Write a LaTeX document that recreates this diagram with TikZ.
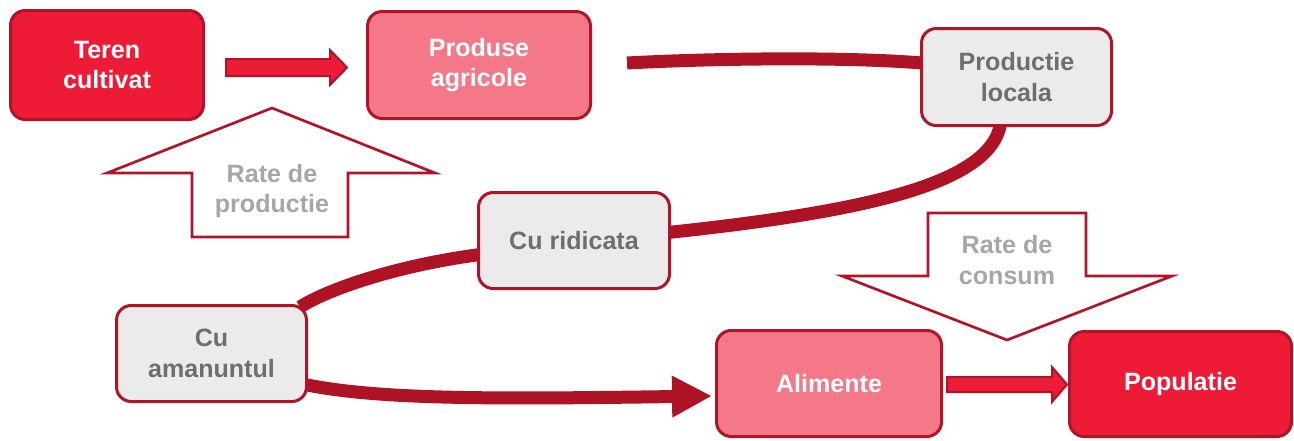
\documentclass[tikz,border=0pt]{standalone}
\usepackage{fontspec}
\setmainfont{Liberation Sans}
\usetikzlibrary{arrows.meta,backgrounds,calc}
\definecolor{redfill}{RGB}{237,27,54}
\definecolor{pinkfill}{RGB}{244,120,135}
\definecolor{grayfill}{RGB}{235,235,235}
\definecolor{boxborder}{RGB}{175,20,40}
\definecolor{connred}{RGB}{173,18,37}
\definecolor{graytext}{RGB}{109,110,113}
\definecolor{ratetextcol}{RGB}{166,166,166}
\begin{document}
\begin{tikzpicture}[x=0.75pt,y=-0.75pt,
  box/.style={draw=boxborder, line width=2.25pt, rounded corners=11pt, inner sep=0pt, align=center,
    font=\fontsize{18.8pt}{23pt}\selectfont\bfseries},
  redbox/.style={box, fill=redfill, text=white},
  pinkbox/.style={box, fill=pinkfill, text=white},
  graybox/.style={box, fill=grayfill, text=graytext},
  conn/.style={draw=connred, line width=9.75pt},
  blockarrow/.style={draw=boxborder, line width=1.5pt, fill=redfill, line join=miter},
  ratearrow/.style={draw=boxborder, line width=2pt, fill=white, line join=miter},
  ratelabel/.style={text=ratetextcol, align=center, inner sep=0pt,
    font=\fontsize{18.8pt}{23pt}\selectfont\bfseries}]
\useasboundingbox (0,0) rectangle (1294,440);

% boxes
\node[redbox, minimum width=144.75pt, minimum height=81.75pt] (teren) at (107,65) {Teren\\cultivat};
\node[pinkbox, minimum width=167.25pt, minimum height=80.25pt] (produse) at (479,65) {Produse\\agricole};
\node[graybox, minimum width=142.5pt, minimum height=72.75pt] (prodloc) at (1016.5,77) {Productie\\locala};
\node[graybox, minimum width=143.25pt, minimum height=72pt] (ridicata) at (574,240.5) {Cu ridicata};
\node[graybox, minimum width=142.5pt, minimum height=72pt] (amanunt) at (211.5,353.5) {Cu\\amanuntul};
\node[pinkbox, minimum width=168.75pt, minimum height=79.5pt] (alimente) at (829,383.5) {Alimente};
\node[redbox, minimum width=166.5pt, minimum height=78.75pt] (populatie) at (1180.5,384) {Populatie};

% block arrows
\draw[blockarrow] (226,59) -- (330,59) -- (330,50) -- (347,67.5) -- (330,85) -- (330,76) -- (226,76) -- cycle;
\draw[blockarrow] (947,377) -- (1052,377) -- (1052,367) -- (1067,384.5) -- (1052,402) -- (1052,392) -- (947,392) -- cycle;

% rate arrows
\draw[ratearrow] (272,108) -- (435,173) -- (348,173) -- (348,237) -- (192,237) -- (192,173) -- (107,173) -- cycle;
\node[ratelabel] (rprod) at (272,191) {Rate de\\productie};
\draw[ratearrow] (928,213) -- (1086,213) -- (1086,276) -- (1172,276) -- (1007,340) -- (842,276) -- (928,276) -- cycle;
\node[ratelabel] (rcons) at (1007,260) {Rate de\\consum};

% connectors
\begin{scope}[on background layer]
\coordinate (p1) at (627,63);
\draw[conn] (p1) .. controls (720,58) and (850,57) .. ($(prodloc.west)+(2,-14)$);
\draw[conn] ($(prodloc.south)+(-16,-3)$) .. controls (990,185) and (860,212) .. ($(ridicata.east)+(-3,-8)$);
\draw[conn] ($(ridicata.west)+(3,14)$) .. controls (400,265) and (330,288) .. ($(amanunt.north east)+(-8,3)$);
\draw[conn, -{Triangle[length=30pt,width=29.25pt]}] ($(amanunt.east)+(-3,31)$) .. controls (380,400) and (500,399) .. ($(alimente.west)+(-3,12.5)$);
\end{scope}
\end{tikzpicture}
\end{document}
